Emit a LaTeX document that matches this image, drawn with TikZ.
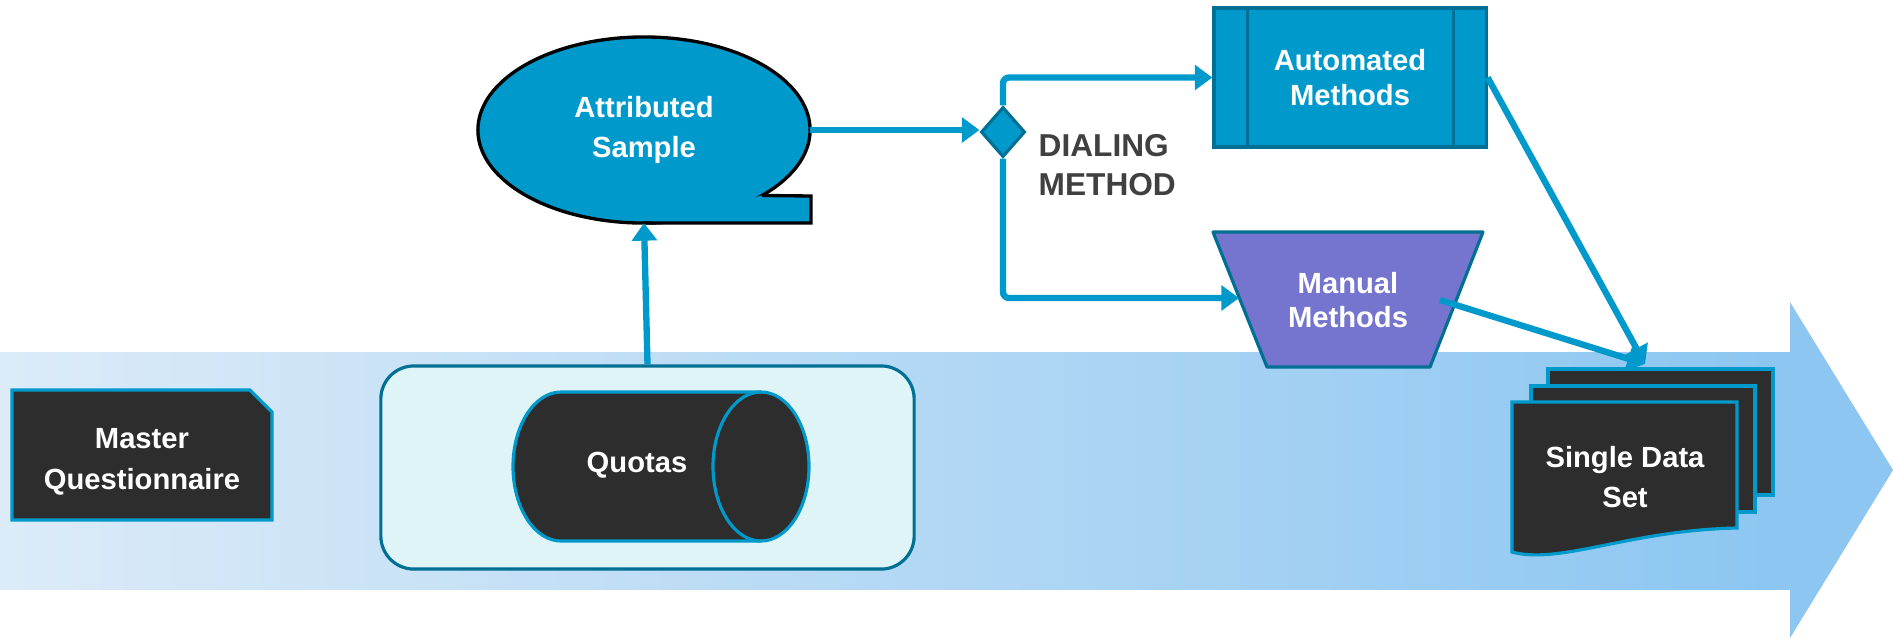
\documentclass[tikz,border=0pt]{standalone}
\usepackage{fontspec}
\setmainfont{Liberation Sans}
\usetikzlibrary{shapes.geometric, arrows.meta, calc}

\definecolor{dialblue}{HTML}{0099CC}
\definecolor{edgeteal}{HTML}{006F94}
\definecolor{darkfill}{HTML}{2D2D2D}
\definecolor{manpurple}{HTML}{7575D0}
\definecolor{boxmint}{HTML}{DFF4F7}
\definecolor{bandlight}{HTML}{DCEBF8}
\definecolor{banddark}{HTML}{8CC6F1}
\definecolor{labelgrey}{HTML}{404040}

\tikzset{
  flow/.style={draw=dialblue, line width=1.8pt, -{Triangle[length=5pt,width=7pt]}},
  wtext/.style={text=white, align=center, font=\bfseries\fontsize{8.3}{11.5}\selectfont},
  wtight/.style={wtext, font=\bfseries\fontsize{8.3}{9.8}\selectfont},
  darkbox/.style={fill=darkfill, draw=dialblue, line width=0.9pt},
}

\begin{document}
\begin{tikzpicture}[x=0.01cm, y=-0.01cm]
      \useasboundingbox (0,0) rectangle (1893,638);

      \shade[left color=bandlight, right color=banddark] (0,352) rectangle (1790,589);
      \fill[banddark] (1790,302) -- (1893,470) -- (1790,638) -- cycle;

      \draw[darkbox] (12,390) -- (250,390) -- (272,412) -- (272,520) -- (12,520) -- cycle;
      \node[wtext] (mq) at (142,462) {Master\\Questionnaire};

      \node[draw=edgeteal, fill=boxmint, line width=0.9pt, rounded corners=0.33cm,
            minimum width=5.33cm, minimum height=2.03cm] (qbox) at (647.5,467.5) {};

      % quotas drum
      \draw[darkbox] (561,392) -- (761,392) .. controls (787.5,392) and (809,425.4) .. (809,466.5)
            .. controls (809,507.6) and (787.5,541) .. (761,541) -- (561,541)
            .. controls (534.5,541) and (513,507.6) .. (513,466.5)
            .. controls (513,425.4) and (534.5,392) .. (561,392) -- cycle;
      \draw[dialblue, line width=0.9pt] (761,392) .. controls (734.5,392) and (713,425.4) .. (713,466.5)
            .. controls (713,507.6) and (734.5,541) .. (761,541);
      \node[wtext] (quo) at (637,465) {Quotas};

      \node[ellipse, draw=black, fill=dialblue, line width=0.95pt, outer sep=0pt,
            minimum width=3.32cm, minimum height=1.86cm, inner sep=0pt, wtext] (samp) at (644,130) {Attributed\\Sample};
      \fill[dialblue] (samp.-29) -- (811,196) -- (811,223) -- (samp.south) -- cycle;
      \draw[black, line width=0.95pt] (samp.-29) -- (811,196) -- (811,223) -- (samp.south);

      \node[diamond, draw=edgeteal, fill=dialblue, line width=0.9pt,
            minimum width=0.44cm, minimum height=0.5cm, inner sep=0pt] (dia) at (1003,132) {};
      \node[anchor=west, align=left, text=labelgrey, inner sep=0pt,
            font=\bfseries\fontsize{9}{11}\selectfont] (dlab) at (1038,165) {DIALING\\METHOD};

      \node[draw=edgeteal, fill=dialblue, line width=0.9pt,
            minimum width=2.72cm, minimum height=1.39cm, wtight] (auto) at (1350,77.5) {Automated\\Methods};
      \draw[edgeteal, line width=0.9pt] ($(auto.north west)+(35,0)$) -- ($(auto.south west)+(35,0)$)
            ($(auto.north east)-(34,0)$) -- ($(auto.south east)-(34,0)$);

      \draw[fill=manpurple, draw=edgeteal, line width=0.9pt, line join=round]
            (1213,232) -- (1483,232) -- (1430,367) -- (1267,367) -- cycle;
      \node[wtight] (man) at (1348,300) {Manual\\Methods};
      \coordinate (manin) at (1239,298);
      \coordinate (manout) at (1440,300);

      \draw[darkbox] (1548,369) rectangle (1773,495);
      \draw[darkbox] (1531,386) rectangle (1755,512);
      \draw[darkbox] (1512,402) -- (1737,402) -- (1737,528) .. controls (1630,530) and (1560,565) .. (1512,552) -- cycle;
      \node[wtext] (data) at (1625,477) {Single Data\\Set};
      \coordinate (dsin) at (1645,364);

      \draw[flow] (qbox.north) -- (samp.south);
      \draw[flow] (samp.east) -- (samp.east -| dia.west);
      \draw[flow, rounded corners=0.06cm] (dia.north) |- (auto.west);
      \draw[flow, rounded corners=0.06cm] (dia.south) |- (manin);
      \draw[flow] (auto.east) -- (dsin);
      \draw[flow] (manout) -- (dsin);

\end{tikzpicture}
\end{document}
